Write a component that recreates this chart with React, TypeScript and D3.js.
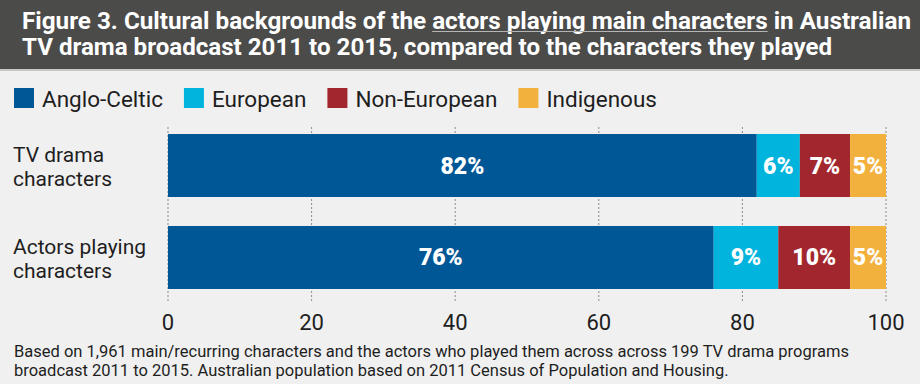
import React, { useEffect, useRef } from "react";
import * as d3 from "d3";

// chart values
const categories = ["TV drama characters", "Actors playing characters"];
const categoryLines = [
  ["TV drama", "characters"],
  ["Actors playing", "characters"],
];
const seriesNames = ["Anglo-Celtic", "European", "Non-European", "Indigenous"];
const angloCeltic = [82, 76];
const european = [6, 9];
const nonEuropean = [7, 10];
const indigenous = [5, 5];
const xTicks = [0, 20, 40, 60, 80, 100];

const colors = ["#005796", "#00b4dd", "#a2262e", "#f2b13d"];
const FONT = "Roboto, 'DejaVu Sans', sans-serif";

interface Row {
  category: string;
  [key: string]: string | number;
}

const rows: Row[] = categories.map((c, i) => ({
  category: c,
  "Anglo-Celtic": angloCeltic[i],
  European: european[i],
  "Non-European": nonEuropean[i],
  Indigenous: indigenous[i],
}));

const App: React.FC = () => {
  const ref = useRef<SVGSVGElement | null>(null);

  useEffect(() => {
    const width = 920;
    const height = 384;

    const svg = d3.select(ref.current).attr("width", width).attr("height", height);
    svg.selectAll("*").remove();

    // background
    svg.append("rect").attr("width", width).attr("height", height).attr("fill", "#f0f0f0");

    // title banner
    svg.append("rect").attr("width", width).attr("height", 70).attr("fill", "#4b4b4a");
    svg
      .append("rect")
      .attr("y", 69)
      .attr("width", width)
      .attr("height", 2)
      .attr("fill", "#c8c8c8");

    const titleStyle = (t: d3.Selection<SVGTextElement, unknown, null, undefined>) =>
      t
        .attr("font-family", FONT)
        .attr("font-weight", 700)
        .attr("font-size", 24)
        .attr("fill", "#ffffff");

    const t1 = svg
      .append("text")
      .call(titleStyle)
      .attr("x", 22)
      .attr("y", 29)
      .attr("textLength", 889)
      .attr("lengthAdjust", "spacingAndGlyphs");
    t1.append("tspan").text("Figure 3. Cultural backgrounds of the ");
    const under = t1.append("tspan").text("actors playing main characters");
    t1.append("tspan").text(" in Australian");

    svg
      .append("text")
      .call(titleStyle)
      .attr("x", 22)
      .attr("y", 55)
      .attr("textLength", 810)
      .attr("lengthAdjust", "spacingAndGlyphs")
      .text("TV drama broadcast 2011 to 2015, compared to the characters they played");

    // thin underline below the highlighted words
    const un = under.node() as SVGTSpanElement;
    const n = un.getNumberOfChars();
    const ux0 = un.getStartPositionOfChar(0).x;
    const ux1 = un.getEndPositionOfChar(n - 1).x;
    svg
      .append("line")
      .attr("x1", ux0)
      .attr("x2", ux1)
      .attr("y1", 31.5)
      .attr("y2", 31.5)
      .attr("stroke", "#b5b5b5")
      .attr("stroke-width", 1);

    // legend
    const color = d3.scaleOrdinal<string>().domain(seriesNames).range(colors);
    let lx = 14;
    seriesNames.forEach((name) => {
      const g = svg.append("g").attr("transform", `translate(${lx},88)`);
      g.append("rect").attr("width", 20).attr("height", 20).attr("fill", color(name));
      const t = g
        .append("text")
        .attr("x", 28)
        .attr("y", 18.5)
        .attr("font-family", FONT)
        .attr("font-size", 22.5)
        .attr("fill", "#1e1e1e")
        .text(name);
      const w = (t.node() as SVGTextElement).getComputedTextLength();
      lx += 28 + w + 21;
    });

    // scales
    const x = d3.scaleLinear().domain([0, 100]).range([168, 886]);
    const y = d3
      .scaleBand<string>()
      .domain(categories)
      .range([134, 289])
      .paddingInner(0.315)
      .paddingOuter(0);

    // dotted gridlines
    svg
      .append("g")
      .selectAll("line")
      .data(xTicks)
      .join("line")
      .attr("x1", (d) => x(d))
      .attr("x2", (d) => x(d))
      .attr("y1", 127)
      .attr("y2", 303)
      .attr("stroke", "#8a8a8a")
      .attr("stroke-width", 1)
      .attr("stroke-dasharray", "2,2");

    // stacked bars
    const stack = d3.stack<Row>().keys(seriesNames);
    const layers = stack(rows);

    const layer = svg
      .append("g")
      .selectAll("g")
      .data(layers)
      .join("g")
      .attr("fill", (d) => color(d.key));

    layer
      .selectAll("rect")
      .data((d) => d)
      .join("rect")
      .attr("x", (d) => x(d[0]))
      .attr("width", (d) => x(d[1]) - x(d[0]))
      .attr("y", (d) => y(d.data.category as string)!)
      .attr("height", y.bandwidth());

    layer
      .selectAll("text")
      .data((d) => d)
      .join("text")
      .attr("x", (d) => (x(d[0]) + x(d[1])) / 2)
      .attr("y", (d) => y(d.data.category as string)! + y.bandwidth() / 2 + 8)
      .attr("text-anchor", "middle")
      .attr("font-family", FONT)
      .attr("font-weight", 900)
      .attr("font-size", 23)
      .attr("fill", "#ffffff")
      .text((d) => `${d[1] - d[0]}%`);

    // category labels, two lines each
    categories.forEach((c, i) => {
      const cy = y(c)! + y.bandwidth() / 2;
      categoryLines[i].forEach((line, j) => {
        svg
          .append("text")
          .attr("x", 13)
          .attr("y", cy - 3.5 + j * 24)
          .attr("font-family", FONT)
          .attr("font-size", 21)
          .attr("fill", "#1e1e1e")
          .text(line);
      });
    });

    // axis tick labels
    svg
      .append("g")
      .selectAll("text")
      .data(xTicks)
      .join("text")
      .attr("x", (d) => x(d))
      .attr("y", 330)
      .attr("text-anchor", "middle")
      .attr("font-family", FONT)
      .attr("font-size", 22)
      .attr("fill", "#1e1e1e")
      .text((d) => d);

    // footnote
    const noteLines = [
      "Based on 1,961 main/recurring characters and the actors who played them across across 199 TV drama programs",
      "broadcast 2011 to 2015. Australian population based on 2011 Census of Population and Housing.",
    ];
    noteLines.forEach((line, i) => {
      svg
        .append("text")
        .attr("x", 14)
        .attr("y", 357 + i * 18.5)
        .attr("font-family", FONT)
        .attr("font-size", 16.5)
        .attr("fill", "#1e1e1e")
        .text(line);
    });
  }, []);

  return (
    <div style={{ position: "absolute", left: 0, top: 0 }}>
      <svg ref={ref} style={{ display: "block" }}></svg>
    </div>
  );
};

export default App;
